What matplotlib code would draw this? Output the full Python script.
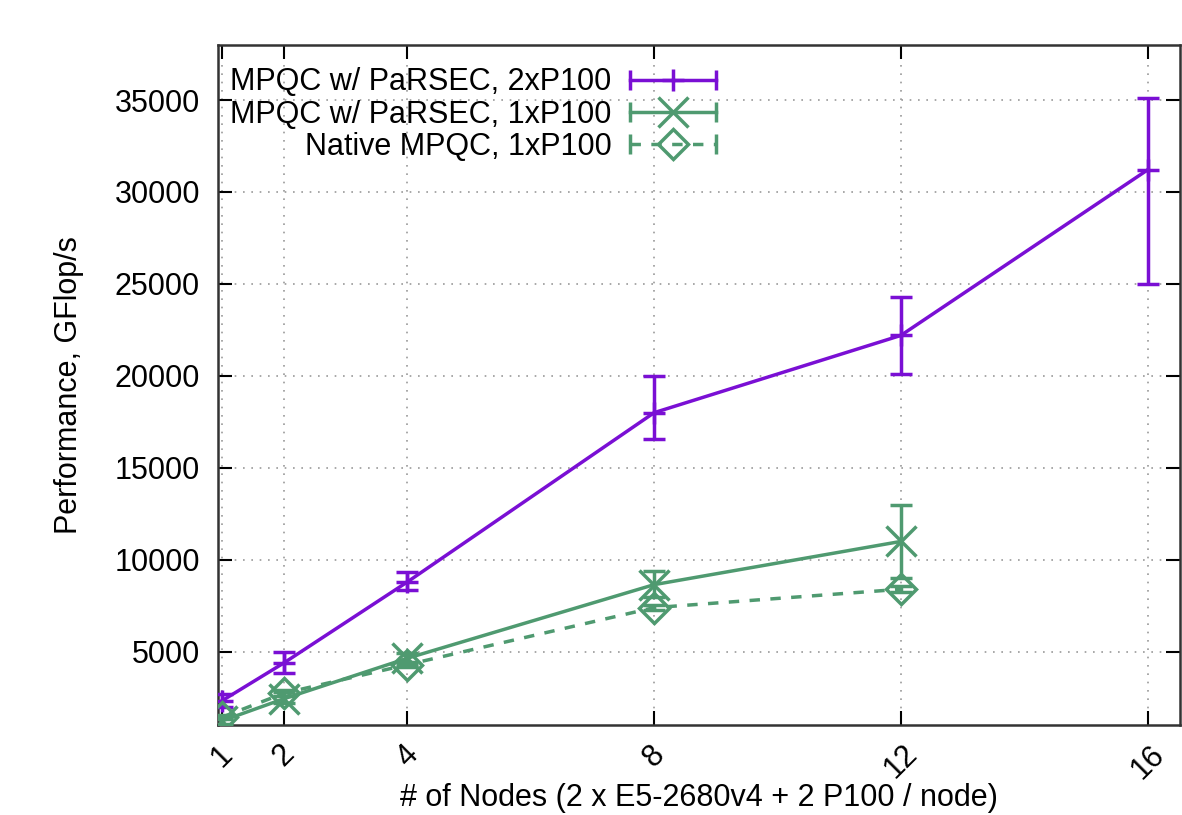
import matplotlib
matplotlib.use("Agg")
import matplotlib.pyplot as plt
from matplotlib.lines import Line2D
from matplotlib.legend_handler import HandlerBase

plt.rcParams['font.family'] = ['Liberation Sans', 'DejaVu Sans']

xticks = [1, 2, 4, 8, 12, 16]
yticks = [5000, 10000, 15000, 20000, 25000, 30000, 35000]

# MPQC w/ PaRSEC, 2xP100
p2_nodes = [1, 2, 4, 8, 12, 16]
p2_val = [2350, 4400, 8800, 18000, 22200, 31200]
p2_lo = [2000, 3850, 8350, 16550, 20100, 25000]
p2_hi = [2700, 5000, 9350, 20000, 24300, 35100]

# MPQC w/ PaRSEC, 1xP100
p1_nodes = [1, 2, 4, 8, 12]
p1_val = [1250, 2450, 4650, 8650, 11000]
p1_lo = [1050, 2200, 4300, 8000, 9000]
p1_hi = [1500, 2800, 4950, 9400, 13000]

# Native MPQC, 1xP100
nat_nodes = [1, 2, 4, 8, 12]
nat_val = [1450, 2750, 4300, 7400, 8400]
nat_lo = [1350, 2600, 4150, 7250, 8250]
nat_hi = [1550, 2900, 4450, 7550, 8550]

labels = ["MPQC w/ PaRSEC, 2xP100", "MPQC w/ PaRSEC, 1xP100", "Native MPQC, 1xP100"]

purple = "#7a0fd4"
green = "#4f9a70"
LW = 2.5

fig = plt.figure(figsize=(11.82, 8.15), dpi=100)
ax = fig.add_axes([0.1845, 0.110, 0.8135, 0.835])

def err(vals, lo, hi):
    return [[v - l for v, l in zip(vals, lo)], [h - v for v, h in zip(vals, hi)]]

styles = [
    dict(color=purple, ls='-', marker='+', ms=16, mfc=purple),
    dict(color=green, ls='-', marker='x', ms=21, mfc=green),
    dict(color=green, ls=(0, (3, 3)), marker='D', ms=15, mfc='none'),
]
series = [
    (p2_nodes, p2_val, p2_lo, p2_hi),
    (p1_nodes, p1_val, p1_lo, p1_hi),
    (nat_nodes, nat_val, nat_lo, nat_hi),
]
for (xs, ys, lo, hi), st in zip(series, styles):
    ax.errorbar(xs, ys, yerr=err(ys, lo, hi), color=st['color'], ls=st['ls'], lw=LW,
                marker=st['marker'], ms=st['ms'], mew=LW, mfc=st['mfc'],
                capsize=8, capthick=LW, elinewidth=LW, zorder=3)


class GnuErrHandler(HandlerBase):
    def create_artists(self, legend, orig_handle, xdescent, ydescent, width, height,
                       fontsize, trans):
        st = orig_handle._st
        y = height / 2.0 - ydescent
        x0, x1 = -xdescent, width - xdescent
        line = Line2D([x0, x1], [y, y], color=st['color'], ls=st['ls'], lw=LW)
        mk = Line2D([(x0 + x1) / 2.0], [y], ls='none', marker=st['marker'],
                    ms=st['ms'], mew=LW, mec=st['color'], mfc=st['mfc'])
        caps = Line2D([x0, x1], [y, y], ls='none', marker='|', ms=14, mew=LW,
                      mec=st['color'])
        arts = [line, mk, caps]
        for a in arts:
            a.set_transform(trans)
        return arts


proxies = []
for st in styles:
    p = Line2D([], [], color=st['color'])
    p._st = st
    proxies.append(p)

ax.set_xlim(0.93, 16.52)
ax.set_ylim(1000, 38000)
ax.set_xticks(xticks)
ax.set_xticklabels([str(t) for t in xticks], rotation=45, ha='center', va='top',
                   fontsize=22)
ax.set_yticks(yticks)
ax.set_yticklabels([str(t) for t in yticks], fontsize=22)
ax.tick_params(direction='in', length=10, width=1.5, top=True, right=True, pad=13)
ax.tick_params(axis='x', pad=10)
ax.grid(True, ls=(0, (1, 4)), color='#999999', lw=1.2)
for s in ax.spines.values():
    s.set_linewidth(1.8)
    s.set_color('#333333')

ax.set_ylabel("Performance, GFlop/s", fontsize=22, labelpad=22)
ax.set_xlabel("# of Nodes (2 x E5-2680v4 + 2 P100 / node)", fontsize=22, labelpad=-1)

leg = ax.legend(proxies, labels, handler_map={p: GnuErrHandler() for p in proxies},
                loc='upper left', bbox_to_anchor=(0.0, 0.985), frameon=False,
                markerfirst=False, fontsize=22, handlelength=2.8, handletextpad=0.6,
                labelspacing=0.08, borderaxespad=0.0)

fig.savefig("out.png", dpi=100)
